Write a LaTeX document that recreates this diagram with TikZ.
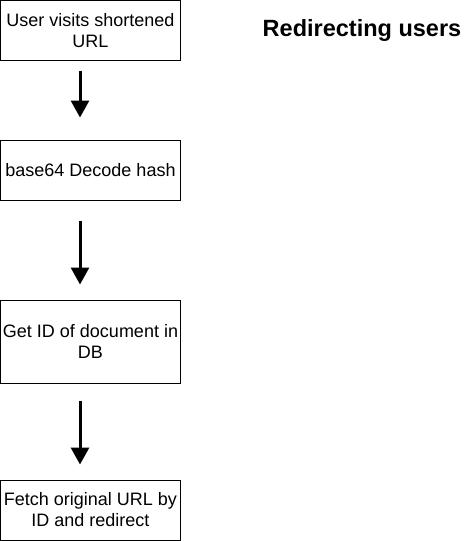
\documentclass[tikz,border=0pt]{standalone}
\usepackage{fontspec}
\setmainfont{Liberation Sans}
\usepackage{tikz}
\usetikzlibrary{arrows.meta}

\begin{document}
\begin{tikzpicture}[x=1pt,y=-1pt,
                stepbox/.style={draw=black, line width=1pt, minimum width=180pt, inner sep=0pt, align=center, font=\fontsize{18}{21}\selectfont},
                flow/.style={line width=3pt, -{Triangle[width=18pt,length=17pt]}}]
                \useasboundingbox (0,0) rectangle (476,541);
                \node [stepbox, minimum height=59.5pt] (visit) at (90.5,30.25) {User visits shortened\\URL};
                \node [stepbox, minimum height=60pt] (decode) at (90.5,170) {base64 Decode hash};
                \node [stepbox, minimum height=83pt] (getid) at (90.5,341.5) {Get ID of document in\\DB};
                \node [stepbox, minimum height=60pt] (fetch) at (90.5,510) {Fetch original URL by\\ID and redirect};
                \node [font=\fontsize{23.5}{27}\selectfont\bfseries] (title) at (362,30) {Redirecting users};
                % arrows sit a little left of the box centres
                \draw [flow, shorten <=10pt, shorten >=22pt] ([xshift=-10.5pt]visit.south) -- ([xshift=-10.5pt]decode.north);
                \draw [flow, shorten <=20pt, shorten >=15pt] ([xshift=-10.5pt]decode.south) -- ([xshift=-10.5pt]getid.north);
                \draw [flow, shorten <=17pt, shorten >=15pt] ([xshift=-10.5pt]getid.south) -- ([xshift=-10.5pt]fetch.north);
\end{tikzpicture}
\end{document}
